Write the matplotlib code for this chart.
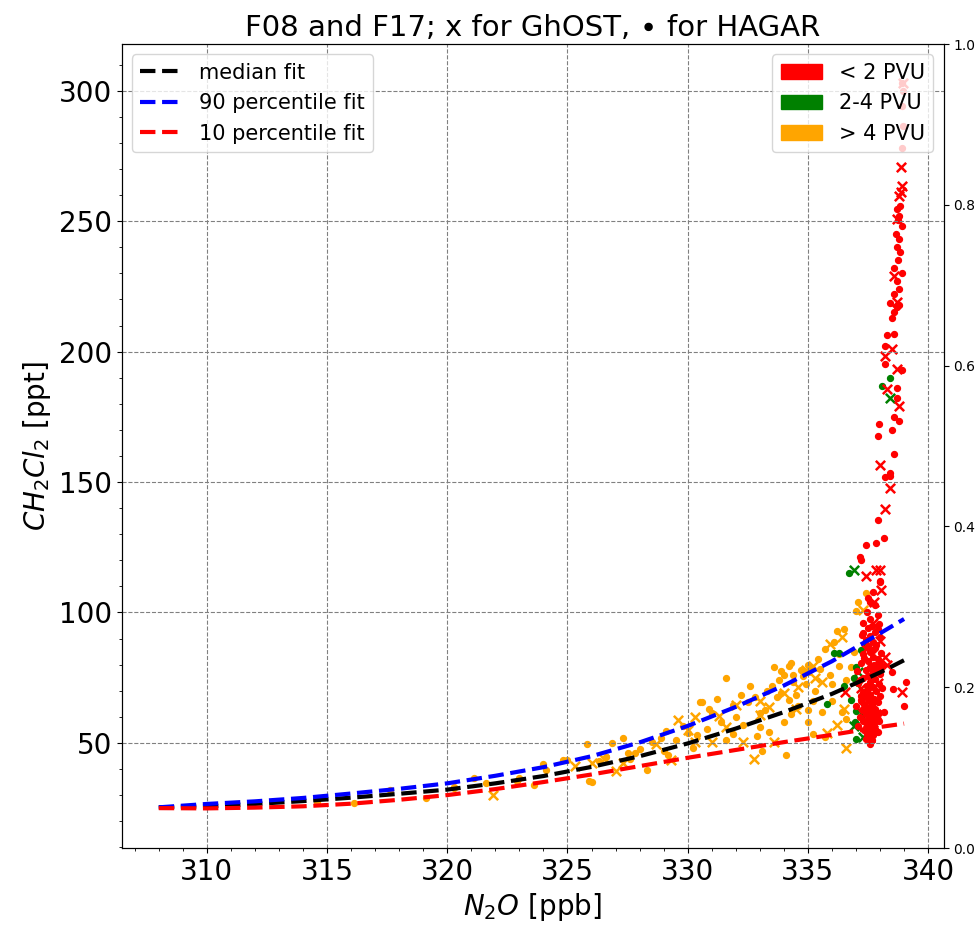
import matplotlib
matplotlib.use("Agg")
import matplotlib.pyplot as plt
import matplotlib.patches as mpatches

# --- fit curves ---
FIT_N2O = [308, 310, 312, 314, 316, 318, 320, 322, 324, 326, 328, 330, 332, 334, 336, 338, 339]
FIT_MEDIAN = [25.3, 25.7, 26.6, 27.7, 29.0, 30.5, 32.1, 34.5, 37.3, 40.8, 44.9, 49.8, 55.5, 61.8, 68.8, 77.0, 81.7]
FIT_P90 = [25.3, 26.6, 27.6, 28.9, 30.6, 32.4, 34.5, 37.4, 40.7, 44.9, 50.2, 56.5, 63.8, 72.0, 81.3, 92.0, 97.5]
FIT_P10 = [25.0, 24.9, 25.2, 25.7, 26.7, 28.2, 30.0, 32.3, 35.0, 37.9, 41.1, 44.3, 47.3, 50.3, 53.1, 56.1, 57.4]

# --- HAGAR (dots) ---
HAGAR_HIGH_X = [314.6, 316.1, 317.6, 319.1, 320.3, 321.1, 323.0, 323.6, 324.1, 324.8, 325.8, 325.9,
                320.3, 321.6, 322.9, 325.0, 326.85, 327.3, 326.0, 327.5, 327.8, 328.3, 329.1, 328.9,
                329.0, 329.2, 330.0, 326.3, 326.6, 331.6, 334.0, 334.4, 334.8, 332.8, 332.5, 333.0,
                333.2, 333.7, 335.2, 335.7, 334.0, 335.0, 335.6, 336.4, 333.4, 334.1, 330.5, 331.0,
                331.4, 336.2, 336.5, 336.3, 337.0, 337.4, 337.1, 336.8, 336.9, 335.5, 335.0, 334.2,
                333.5, 334.5, 335.3, 336.0, 332.0, 332.3, 330.8, 329.8, 328.5, 330.2, 331.6, 333.1,
                336.0, 336.6, 334.6, 333.9, 335.7, 336.9, 330.6, 324.0,
                333.6, 333.9, 334.3, 334.7, 335.0, 334.4, 334.9, 333.8, 335.2, 334.2, 333.3, 332.6,
                332.2, 331.9, 331.2, 330.9, 335.9, 336.3, 336.6, 335.4, 336.1, 335.0, 334.3, 333.0,
                332.9, 331.9, 330.4, 329.5, 328.0, 327.6]
HAGAR_HIGH_Y = [27.3, 27.0, 31.9, 28.9, 33.0, 36.6, 36.6, 33.7, 39.8, 43.6, 49.4, 35.3,
                32.8, 34.7, 35.3, 43.6, 50.0, 51.7, 35.1, 46.2, 46.2, 39.8, 54.5, 52.0,
                47.0, 45.5, 53.8, 43.0, 44.5, 74.7, 76.0, 76.0, 75.5, 67.7, 65.8, 61.6,
                62.5, 67.5, 53.6, 52.4, 58.0, 58.1, 61.9, 61.9, 54.3, 45.3, 65.8, 61.5,
                58.1, 93.0, 93.5, 84.0, 100.5, 107.3, 104.0, 79.0, 75.0, 78.5, 80.0, 79.5,
                72.0, 68.5, 70.0, 72.5, 60.0, 57.0, 55.5, 56.5, 50.5, 48.0, 51.0, 47.0,
                66.0, 59.0, 64.0, 69.0, 86.0, 85.0, 65.6, 42.0,
                79.0, 77.5, 80.5, 78.0, 77.0, 73.5, 72.5, 74.0, 66.0, 66.5, 70.0, 72.0,
                68.5, 64.5, 67.0, 63.0, 76.0, 79.5, 74.0, 82.0, 88.5, 62.5, 61.0, 56.0,
                52.5, 53.5, 53.0, 51.0, 47.5, 44.0]

HAGAR_MID_X = [336.1, 336.3, 337.2, 337.4, 336.5, 335.8, 337.0, 337.2, 337.0, 336.9, 337.1, 337.3,
               336.8, 337.0, 336.95, 338.1, 338.4, 336.7]
HAGAR_MID_Y = [84.5, 84.5, 85.8, 87.0, 71.8, 64.8, 62.3, 60.4, 51.5, 75.0, 73.0, 68.0,
               66.5, 79.0, 58.0, 186.8, 189.7, 115.1]

HAGAR_LOW_X = [337.5, 337.8, 337.9, 337.6, 337.3, 337.95,
               337.5, 337.8, 337.6, 338.0, 337.4, 337.7, 337.9,
               337.5, 337.8, 337.6, 338.05, 337.3, 337.7, 337.9, 337.5, 337.2, 337.75,
               337.6, 337.9, 337.4, 337.7, 338.0, 337.5, 337.3, 337.8, 337.6, 337.1, 337.95, 337.45,
               337.7, 337.5, 337.85, 337.3, 337.6, 338.0, 337.4, 337.75, 337.2, 337.55, 337.9, 337.35, 337.65,
               337.5, 337.8, 337.25, 337.6, 337.95, 337.4, 337.7, 337.15, 337.55, 337.85, 337.3, 337.65,
               337.45, 337.75, 337.1,
               337.5, 337.8, 337.35, 337.6, 337.9, 337.45, 337.7, 337.55, 337.4, 337.65, 337.6,
               337.25, 337.85, 337.05, 338.1, 337.35, 337.65, 338.15, 337.2, 337.95, 337.45,
               337.0, 337.7, 338.1, 337.3, 337.55, 337.85, 337.15, 337.6, 337.95, 337.4,
               338.56, 339.1, 339.0, 338.5,
               337.6, 338.0, 337.2, 337.83, 337.4, 337.16, 338.0, 337.7,
               337.9, 338.18, 337.94, 337.9, 338.5, 338.6, 338.4, 338.2, 338.4, 338.6, 338.8,
               338.7, 338.7, 338.9, 338.2, 338.2, 338.3, 338.6, 338.5, 338.6, 338.7, 338.4, 338.8,
               338.6, 338.8, 338.7, 338.9, 338.6, 338.75, 338.85, 338.7, 338.8, 338.65, 338.9,
               338.75, 338.8, 338.7, 338.85,
               338.93, 338.95, 338.93, 338.95, 338.93]
HAGAR_LOW_Y = [105.5, 103.0, 99.0, 97.5, 96.0, 95.5,
               94.0, 92.5, 91.0, 90.5, 89.5, 88.5, 93.5,
               87.0, 86.5, 85.0, 84.5, 84.0, 83.0, 82.0, 81.5, 80.5, 80.0,
               79.0, 78.5, 78.0, 77.0, 76.5, 75.5, 75.0, 74.5, 73.5, 73.0, 72.5, 72.0,
               71.5, 70.5, 70.0, 69.5, 68.5, 68.0, 67.5, 67.0, 66.5, 66.0, 65.5, 65.0, 64.5,
               63.5, 63.0, 62.5, 62.0, 61.5, 61.0, 60.5, 60.0, 59.5, 59.0, 58.5, 58.0,
               57.5, 57.0, 56.5,
               56.0, 55.5, 55.0, 54.5, 54.0, 53.5, 53.0, 52.0, 51.5, 51.0, 49.6,
               91.5, 87.5, 77.5, 71.0, 82.5, 95.0, 62.0, 68.0, 58.5, 100.0,
               64.0, 85.5, 79.5, 92.0, 60.5, 66.0, 74.0, 57.0, 81.0, 69.0,
               70.6, 73.4, 64.2, 77.0,
               104.0, 111.7, 120.0, 126.8, 125.8, 121.3, 112.1, 108.0,
               135.5, 128.7, 172.2, 167.7, 170.0, 160.9, 153.5, 152.0, 152.5, 175.1, 173.4,
               186.2, 182.1, 193.0, 195.1, 202.2, 206.3, 206.6, 213.0, 215.0, 217.0, 218.8, 218.0,
               222.0, 224.0, 227.0, 230.0, 232.0, 235.0, 238.0, 240.0, 243.0, 245.0, 248.0,
               250.5, 252.0, 254.5, 256.0,
               278.0, 286.4, 294.0, 300.0, 303.0]

# --- GhOST (crosses) ---
GHOST_HIGH_X = [321.9, 325.3, 326.0, 327.3, 327.0, 328.7, 329.6, 329.3, 330.3, 331.6, 333.0, 333.4,
                334.6, 335.6, 335.3, 333.6, 332.3, 331.0, 330.3, 332.75, 335.8, 336.2, 336.6, 336.4,
                337.3, 334.9, 335.9, 326.5,
                334.0, 333.0, 335.2, 334.5, 332.0, 331.3, 336.5, 330.0]
GHOST_HIGH_Y = [30.2, 41.1, 42.3, 42.3, 39.1, 49.4, 58.9, 43.6, 60.0, 56.2, 60.7, 63.9,
                71.5, 73.4, 75.0, 50.4, 50.4, 50.3, 50.4, 43.7, 53.8, 56.8, 47.9, 90.7,
                101.0, 78.0, 88.0, 44.0,
                69.0, 66.0, 79.5, 63.0, 64.5, 60.5, 63.0, 55.0]

GHOST_MID_X = [336.9, 338.4, 336.9, 337.3, 337.1, 337.3]
GHOST_MID_Y = [116.3, 182.4, 56.6, 52.2, 77.0, 70.0]

GHOST_LOW_X = [338.86, 338.9, 338.86, 338.8, 338.7, 338.6, 338.7, 338.22, 338.5, 338.7, 338.3, 338.8,
               338.0, 338.4, 338.2, 338.0, 337.4, 337.85, 338.03, 337.75, 338.93, 336.54, 338.3, 338.95,
               337.7, 338.0, 337.4, 337.8, 337.5, 337.9, 337.6, 337.3, 337.85, 337.5, 337.7, 337.6,
               338.2, 337.2]
GHOST_LOW_Y = [270.8, 263.4, 261.0, 259.6, 250.8, 229.0, 219.0, 198.3, 201.1, 193.2, 185.8, 179.2,
               156.6, 147.9, 139.6, 116.3, 114.0, 116.2, 108.6, 104.0, 69.6, 69.6, 80.0, 303.0,
               96.0, 89.0, 86.0, 79.0, 76.0, 73.0, 68.5, 64.0, 61.0, 58.0, 55.0, 52.0,
               83.0, 71.0]

PVU_LABELS = ["< 2 PVU", "2-4 PVU", "> 4 PVU"]
PVU_COLORS = ["red", "green", "orange"]

DOT_SIZE = 18
CROSS_SIZE = 45


def main():
    fig, ax = plt.subplots(figsize=(9.8, 9.25), dpi=100)
    fig.subplots_adjust(left=0.124, right=0.963, bottom=0.0832, top=0.9524)

    # scatter: high PVU first, low PVU on top
    ax.scatter(HAGAR_HIGH_X, HAGAR_HIGH_Y, s=DOT_SIZE, color="orange", marker="o")
    ax.scatter(GHOST_HIGH_X, GHOST_HIGH_Y, s=CROSS_SIZE, color="orange", marker="x", linewidths=1.8)
    ax.scatter(HAGAR_MID_X, HAGAR_MID_Y, s=DOT_SIZE, color="green", marker="o")
    ax.scatter(GHOST_MID_X, GHOST_MID_Y, s=CROSS_SIZE, color="green", marker="x", linewidths=1.8)
    ax.scatter(HAGAR_LOW_X, HAGAR_LOW_Y, s=DOT_SIZE, color="red", marker="o")
    ax.scatter(GHOST_LOW_X, GHOST_LOW_Y, s=CROSS_SIZE, color="red", marker="x", linewidths=1.8)

    ax.plot(FIT_N2O, FIT_MEDIAN, "k--", lw=3, label="median fit")
    ax.plot(FIT_N2O, FIT_P90, "b--", lw=3, label="90 percentile fit")
    ax.plot(FIT_N2O, FIT_P10, "r--", lw=3, label="10 percentile fit")

    ax.set_xlim(306.45, 340.65)
    ax.set_ylim(9.7, 317.9)
    ax.minorticks_on()
    ax.grid(True, which="major", linestyle="--", color="grey", linewidth=0.8)
    ax.tick_params(labelsize=20)
    ax.set_xlabel(r"$N_2O$ [ppb]", fontsize=20)
    ax.set_ylabel(r"$CH_2Cl_2$ [ppt]", fontsize=20)
    ax.set_title("F08 and F17; x for GhOST, \u2219 for HAGAR", fontsize=21)
    ax.legend(loc="upper left", fontsize=15)

    ax2 = ax.twinx()
    handles = [mpatches.Patch(color=c, label=l) for c, l in zip(PVU_COLORS, PVU_LABELS)]
    ax2.legend(handles=handles, loc="upper right", fontsize=15)

    fig.savefig("out.png", dpi=100)
    plt.close(fig)


if __name__ == "__main__":
    main()
